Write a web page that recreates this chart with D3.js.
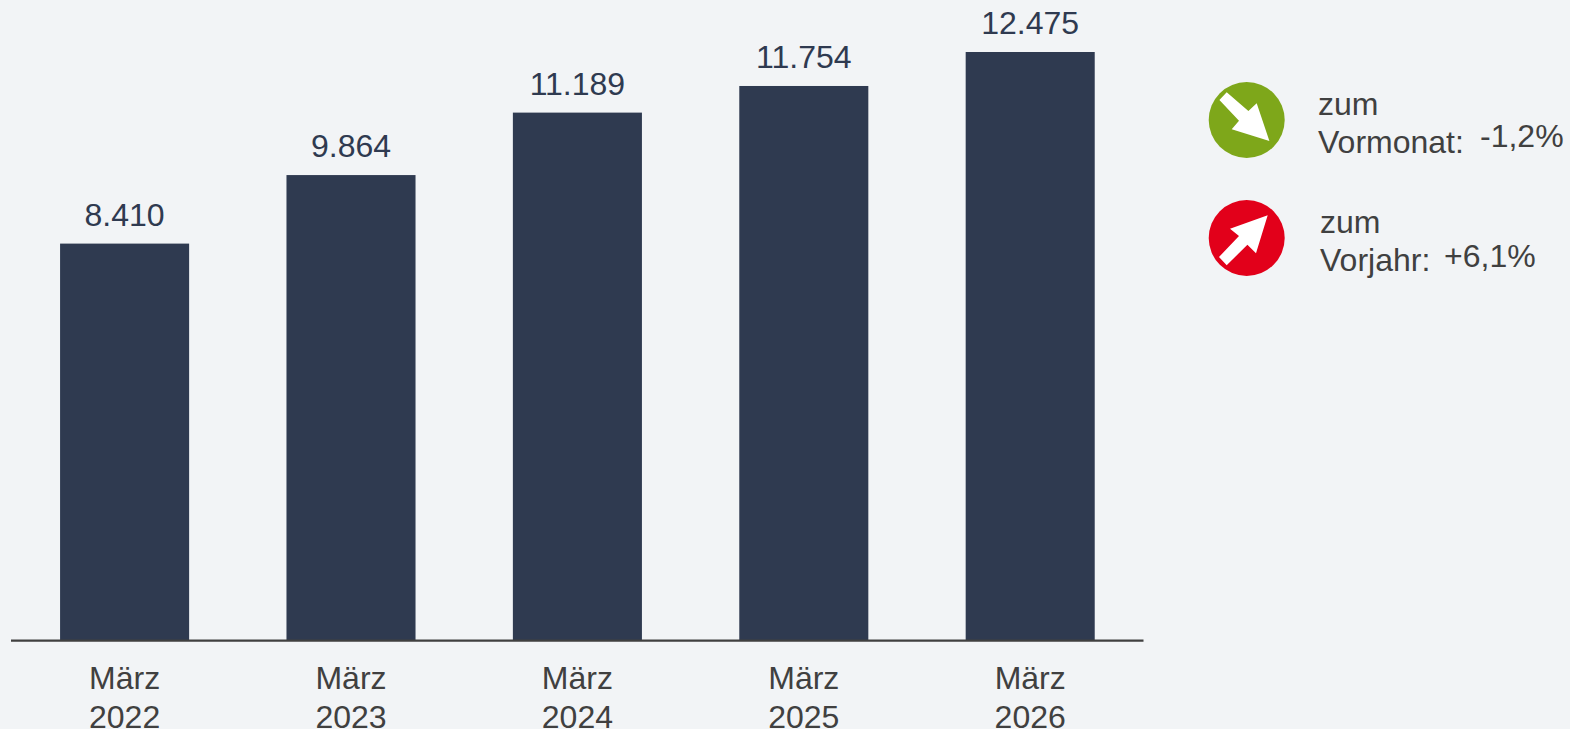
<!DOCTYPE html>
<html><head><meta charset="utf-8">
<script src="https://cdn.jsdelivr.net/npm/d3@7"></script>
<style>html,body{margin:0;padding:0;background:#f2f4f6;overflow:hidden}svg{display:block}text{font-family:"Liberation Sans",Arial,sans-serif}</style>
</head><body><svg id="c" width="1570" height="729"></svg>
<script>
const categories = ["März 2022","März 2023","März 2024","März 2025","März 2026"];
const values = [8410,9864,11189,11754,12475];
const valueLabels = ["8.410","9.864","11.189","11.754","12.475"];
const legendTitles = ["zum","zum"];
const legendLabels = ["Vormonat:","Vorjahr:"];
const legendValues = ["-1,2%","+6,1%"];

const svg = d3.select("#c");
const baseY = 640;
const x = d3.scaleBand().domain(categories).range([11.4,1143.4]).paddingInner(0.43).paddingOuter(0.215);
const y = d3.scaleLinear().domain([0,12475]).range([baseY,52]);

svg.selectAll("rect.bar").data(values).join("rect").attr("class","bar")
  .attr("x",(d,i)=>x(categories[i])).attr("width",x.bandwidth())
  .attr("y",d=>y(d)).attr("height",d=>baseY-y(d)).attr("fill","#2f3a50");

svg.selectAll("text.val").data(values).join("text").attr("class","val")
  .attr("x",(d,i)=>x(categories[i])+x.bandwidth()/2).attr("y",d=>y(d)-18)
  .attr("text-anchor","middle").attr("font-size",32).attr("fill","#2f3a50")
  .text((d,i)=>valueLabels[i]);

svg.append("line").attr("x1",11).attr("x2",1143.5).attr("y1",640.7).attr("y2",640.7)
  .attr("stroke","#404040").attr("stroke-width",2.2);

const tick = svg.selectAll("text.cat").data(categories).join("text").attr("class","cat")
  .attr("text-anchor","middle").attr("font-size",32).attr("fill","#404040");
tick.append("tspan").attr("x",d=>x(d)+x.bandwidth()/2).attr("y",689).text(d=>d.split(" ")[0]);
tick.append("tspan").attr("x",d=>x(d)+x.bandwidth()/2).attr("y",727.5).text(d=>d.split(" ")[1]);

const icons = [
 {fill:"#7ea71a",cy:120,arrow:[[22.7,21],[10,-16.7],[1.7,-9],[-20,-27.7],[-27.3,-20],[-7.7,0.7],[-15,9.3]]},
 {fill:"#e2001a",cy:238,arrow:[[21,-22.7],[-16.7,-9.3],[-7.7,-2],[-27.7,19],[-20,27.3],[0.7,6.7],[9.3,15.3]]}
];
const line = d3.line();
icons.forEach(ic=>{
  const g = svg.append("g").attr("transform",`translate(1246.7,${ic.cy})`);
  g.append("circle").attr("r",38).attr("fill",ic.fill);
  g.append("path").attr("d",line(ic.arrow)+"Z").attr("fill","#fff");
});
const legendPos = [
 {tx:1318,ty:115,lx:1318,ly:153,vx:1480,vy:147},
 {tx:1320,ty:233,lx:1320,ly:271,vx:1444,vy:267}
];
legendPos.forEach((p,i)=>{
  const t=(s,xx,yy)=>svg.append("text").attr("x",xx).attr("y",yy).attr("font-size",32).attr("fill","#404040").text(s);
  t(legendTitles[i],p.tx,p.ty);t(legendLabels[i],p.lx,p.ly);t(legendValues[i],p.vx,p.vy);
});
</script></body></html>
